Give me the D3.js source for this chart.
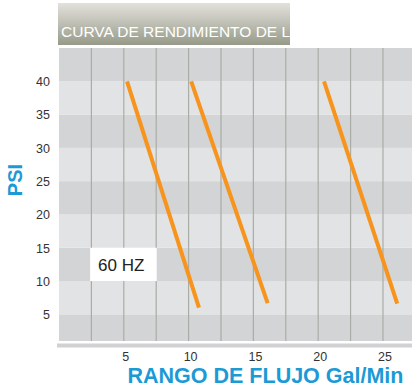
<!DOCTYPE html>
<html><head><meta charset="utf-8">
<script src="https://cdn.jsdelivr.net/npm/d3@7"></script>
<style>body{margin:0;background:#fff}svg{display:block}</style>
</head><body>
<script>
const title = "CURVA DE RENDIMIENTO DE LA BOMBA";
const xLabel = "RANGO DE FLUJO Gal/Min";
const yLabel = "PSI";
const noteLabel = "60 HZ";
const xTicks = [5, 10, 15, 20, 25];
const xGrid = [2.5, 5, 7.5, 10, 12.5, 15, 17.5, 20, 22.5, 25];
const yTicks = [5, 10, 15, 20, 25, 30, 35, 40];
const bandEdges = [1, 5, 10, 15, 20, 25, 30, 35, 40, 45];
// series: each curve as [flow, psi] start and end points
const curveA = [[5.25, 40], [10.8, 6.0]];
const curveB = [[10.2, 40], [16.1, 6.7]];
const curveC = [[20.45, 40], [26.1, 6.6]];
const curves = [curveA, curveB, curveC];

const W = 415, H = 387;
const svg = d3.select("body").append("svg").attr("width", W).attr("height", H);
const x = d3.scaleLinear().domain([0, 27.24]).range([59, 412]);
const y = d3.scaleLinear().domain([1, 45]).range([341, 48]);

// title bar
const defs = svg.append("defs");
const g = defs.append("linearGradient").attr("id", "tg").attr("x1", 0).attr("y1", 0).attr("x2", 0).attr("y2", 1);
g.append("stop").attr("offset", "0%").attr("stop-color", "#e2e1dc");
g.append("stop").attr("offset", "35%").attr("stop-color", "#c9c9c0");
g.append("stop").attr("offset", "100%").attr("stop-color", "#979a88");
defs.append("clipPath").attr("id", "tc").append("rect").attr("x", 58).attr("y", 3).attr("width", 232).attr("height", 42);
svg.append("rect").attr("x", 58).attr("y", 3).attr("width", 232).attr("height", 42).attr("fill", "url(#tg)");
svg.append("text").attr("clip-path", "url(#tc)").attr("x", 61).attr("y", 37)
  .attr("font-family", "Liberation Sans, Arial, sans-serif").attr("font-size", 15.5)
  .attr("fill", "#fff").text(title);

// bands
const bands = d3.pairs(bandEdges);
svg.append("g").selectAll("rect").data(bands).join("rect")
  .attr("x", x(0)).attr("width", x(27.24) - x(0))
  .attr("y", d => y(d[1])).attr("height", d => y(d[0]) - y(d[1]))
  .attr("fill", (d, i) => i % 2 === 0 ? "#d3d4d5" : "#e2e3e4");

// vertical grid
svg.append("g").selectAll("line").data(xGrid).join("line")
  .attr("x1", d => x(d)).attr("x2", d => x(d)).attr("y1", 48).attr("y2", 341)
  .attr("stroke", "#aaaca6").attr("stroke-width", 1.2);

// bottom bar
svg.append("rect").attr("x", 57).attr("y", 343.5).attr("width", 355).attr("height", 4).attr("fill", "#d0d1d2");

// note box
svg.append("rect").attr("x", x(2.4)).attr("y", y(15)).attr("width", x(7.55) - x(2.4)).attr("height", y(10) - y(15)).attr("fill", "#fff");
svg.append("text").attr("x", 98).attr("y", 270.5)
  .attr("font-family", "Liberation Sans, Arial, sans-serif").attr("font-size", 17).attr("fill", "#222").text(noteLabel);

// curves
const line = d3.line().x(d => x(d[0])).y(d => y(d[1]));
svg.append("g").selectAll("path").data(curves).join("path")
  .attr("d", line).attr("fill", "none").attr("stroke", "#f7941d").attr("stroke-width", 4);

// axes
const yAxis = d3.axisLeft(y).tickValues(yTicks).tickSize(0).tickPadding(0);
const ya = svg.append("g").attr("transform", "translate(50,0)").call(yAxis);
ya.select(".domain").remove();
ya.selectAll("text").attr("font-family", "Liberation Sans, Arial, sans-serif").attr("font-size", 12.5).attr("fill", "#333").attr("dy", "0.35em");

const xAxis = d3.axisBottom(x).tickValues(xTicks).tickSize(0).tickPadding(0);
const xa = svg.append("g").attr("transform", "translate(1.5,350)").call(xAxis);
xa.select(".domain").remove();
xa.selectAll("text").attr("font-family", "Liberation Sans, Arial, sans-serif").attr("font-size", 12.5).attr("fill", "#333").attr("dy", "0.9em");

// axis titles
svg.append("text").attr("x", 265.5).attr("y", 382.5).attr("text-anchor", "middle")
  .attr("font-family", "Liberation Sans, Arial, sans-serif").attr("font-weight", "bold").attr("font-size", 21.5)
  .attr("fill", "#1b9ad6").text(xLabel);
svg.append("text").attr("transform", "translate(22,180) rotate(-90)").attr("text-anchor", "middle")
  .attr("font-family", "Liberation Sans, Arial, sans-serif").attr("font-weight", "bold").attr("font-size", 20)
  .attr("fill", "#1b9ad6").text(yLabel);
</script>
</body></html>
